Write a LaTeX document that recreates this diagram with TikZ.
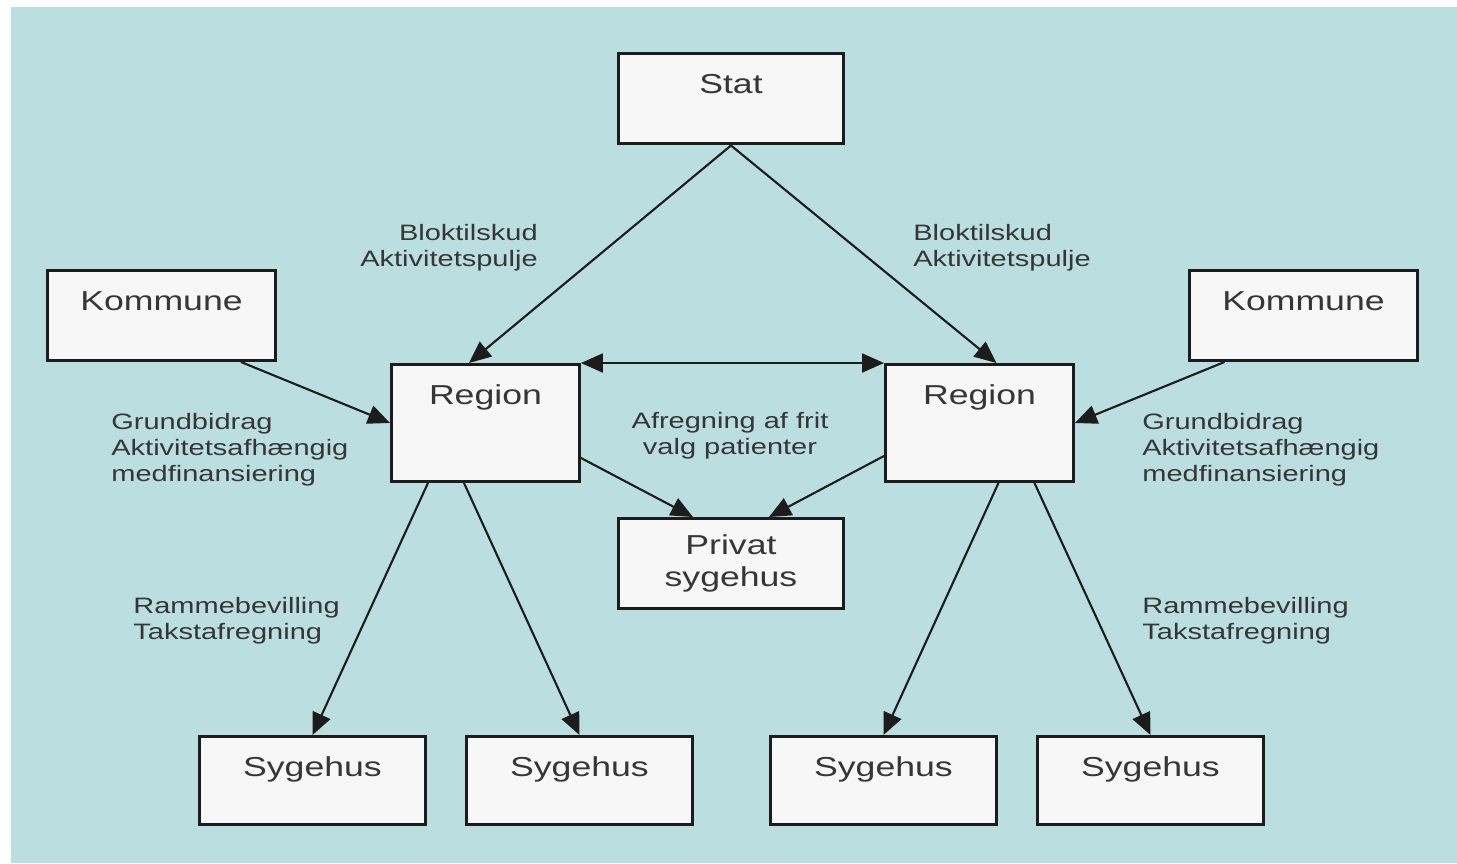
\documentclass[tikz,border=0pt]{standalone}
\usepackage{fontspec}
\setmainfont{Liberation Sans}[FakeStretch=1.3]
\usetikzlibrary{arrows.meta}
\definecolor{bgblue}{HTML}{BBDEE0}
\definecolor{boxfill}{HTML}{F7F7F7}
\definecolor{edge}{HTML}{1C1C1C}
\definecolor{txt}{HTML}{363636}

\begin{document}
\begin{tikzpicture}[x=0.02cm, y=-0.02cm, line join=miter,
    >={Triangle[length=0.44cm, width=0.38cm]},
    box/.style={draw=edge, line width=1.7pt, fill=boxfill, inner sep=0pt, anchor=north west, text=txt, font=\fontsize{15.6}{18.2}\selectfont},
    tbox/.style 2 args={box, minimum width=#1, text height=0.8cm, text depth=#2},
    lbl/.style={inner sep=0pt, text=txt, font=\fontsize{12.7}{14.8}\selectfont},
    arr/.style={draw=edge, line width=1.2pt}]
    % background
    \fill[bgblue] (11,7) rectangle (1457,863);
    \useasboundingbox (0,0) rectangle (1457,863);

    % boxes
    \node[tbox={4.5cm}{1.01cm}] (stat) at (617,52) {Stat};
    \node[tbox={4.56cm}{1.0cm}] (komL) at (46,269) {Kommune};
    \node[tbox={4.56cm}{1.0cm}] (komR) at (1188,269) {Kommune};
    \node[tbox={3.76cm}{1.54cm}] (regL) at (390,363) {Region};
    \node[tbox={3.76cm}{1.54cm}] (regR) at (884,363) {Region};
    \node[box, minimum width=4.5cm, minimum height=1.8cm, align=center] (privat) at (617,517) {Privat\\sygehus};
    \node[tbox={4.52cm}{0.96cm}] (syg1) at (198,735) {Sygehus};
    \node[tbox={4.52cm}{0.96cm}] (syg2) at (465,735) {Sygehus};
    \node[tbox={4.52cm}{0.96cm}] (syg3) at (769,735) {Sygehus};
    \node[tbox={4.52cm}{0.96cm}] (syg4) at (1036,735) {Sygehus};

    % labels
    \node[lbl, anchor=north east, align=right] (blokL) at (538,224) {Bloktilskud\\Aktivitetspulje};
    \node[lbl, anchor=north west, align=left] (blokR) at (913,224) {Bloktilskud\\Aktivitetspulje};
    \node[lbl, anchor=north west, align=left] (grundL) at (111,413) {Grundbidrag\\Aktivitetsafhængig\\medfinansiering};
    \node[lbl, anchor=north west, align=left] (grundR) at (1142,413) {Grundbidrag\\Aktivitetsafhængig\\medfinansiering};
    \node[lbl, anchor=north, align=center] (afreg) at (730,412) {Afregning af frit\\valg patienter};
    \node[lbl, anchor=north west, align=left] (rammeL) at (133,597) {Rammebevilling\\Takstafregning};
    \node[lbl, anchor=north west, align=left] (rammeR) at (1142,597) {Rammebevilling\\Takstafregning};

    % connectors
    \draw[arr, ->] (stat.south) -- ([xshift=-0.33cm]regL.north);
    \draw[arr, ->] (stat.south) -- ([xshift=0.34cm]regR.north);
    \draw[arr, ->] ([xshift=1.59cm]komL.south) -- (regL.west);
    \draw[arr, ->] ([xshift=-1.58cm]komR.south) -- (regR.east);
    \draw[arr, <->] (regL.north east) -- (regR.north west);
    \draw[arr, ->] ([yshift=-0.7cm]regL.east) -- ([xshift=-0.76cm]privat.north);
    \draw[arr, ->] ([yshift=-0.66cm]regR.west) -- ([xshift=0.76cm]privat.north);
    \draw[arr, ->] ([xshift=-1.15cm]regL.south) -- (syg1.north);
    \draw[arr, ->] ([xshift=-0.43cm]regL.south) -- (syg2.north);
    \draw[arr, ->] ([xshift=0.38cm]regR.south) -- (syg3.north);
    \draw[arr, ->] ([xshift=1.1cm]regR.south) -- (syg4.north);
\end{tikzpicture}
\end{document}
